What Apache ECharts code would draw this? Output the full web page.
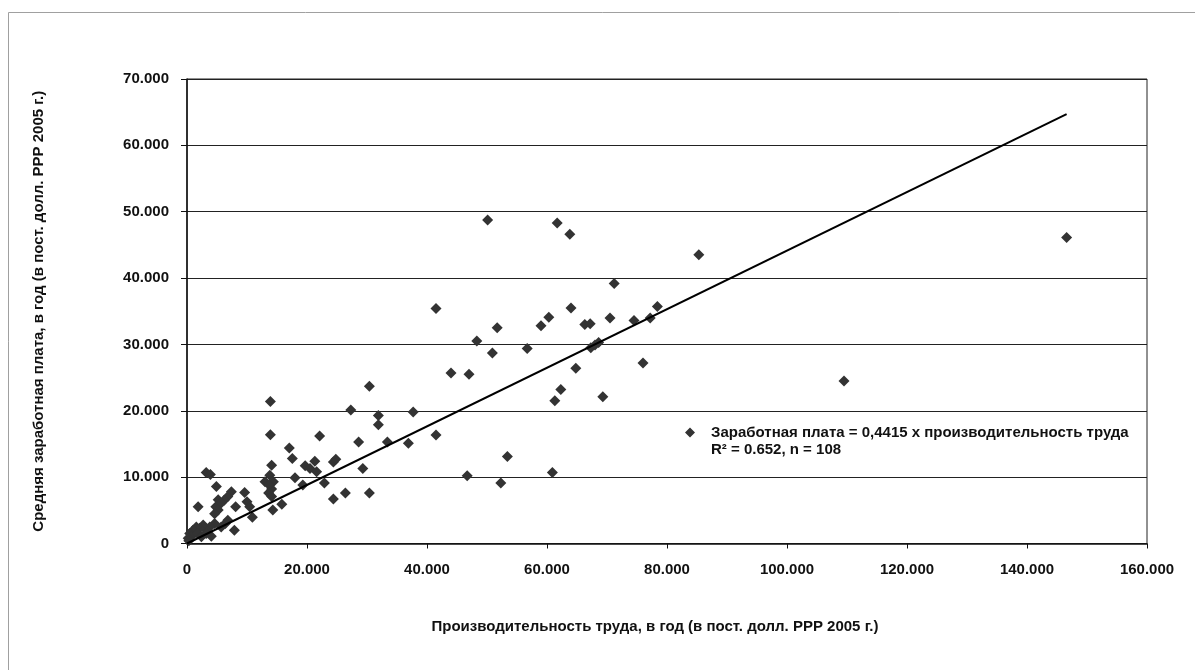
<!DOCTYPE html>
<html>
<head>
<meta charset="utf-8">
<script src="https://cdn.jsdelivr.net/npm/echarts@6/dist/echarts.min.js"></script>
<style>
html,body{margin:0;padding:0;background:#fff;}
#chart{width:1195px;height:670px;}
</style>
</head>
<body>
<div id="chart"></div>
<script>
// Labour productivity (x) and average wage (y), constant 2005 PPP dollars per year
var productivity = [
  50100, 61700, 63800, 85300, 71200, 41500, 64000, 78400, 51700, 59000,
  60300, 66300, 67200, 70500, 74500, 77200, 48300, 50900, 56700, 44000,
  47000, 67300, 68600, 68000, 64800, 76000, 62300, 61300, 69300, 41500,
  53400, 46700, 52300, 60900, 109500, 146600, 30400, 37700, 31900, 31900,
  28600, 33400, 36900, 29300, 30400, 13900, 27300, 13900, 22100, 17050,
  17550, 21300, 24400, 24800, 14100, 19700, 20500, 21600, 13800, 14400,
  18000, 19300, 22900, 14100, 15800, 14300, 24400, 26400, 13000, 13700,
  13600, 14100, 3200, 3900, 4900, 7400, 6800, 6200, 9600, 10000,
  10450, 8100, 5200, 4800, 5700, 1850, 5200, 4600, 10900, 6800,
  6400, 5700, 7900, 4600, 3800, 3200, 2700, 2100, 1550, 1000,
  450, 700, 200, 1800, 2400, 4050, 300, 3200
];
var wage = [
  48750, 48300, 46600, 43500, 39200, 35400, 35500, 35700, 32500, 32800,
  34100, 33000, 33100, 34000, 33600, 34000, 30500, 28700, 29400, 25700,
  25500, 29500, 30300, 29900, 26400, 27200, 23200, 21500, 22100, 16350,
  13100, 10200, 9100, 10700, 24500, 46100, 23700, 19800, 19300, 17900,
  15300, 15300, 15100, 11300, 7600, 21400, 20100, 16400, 16200, 14400,
  12800, 12400, 12300, 12700, 11800, 11700, 11300, 10800, 10300, 9300,
  9900, 8800, 9100, 8200, 5900, 5050, 6700, 7600, 9300, 8800,
  7600, 7100, 10700, 10400, 8600, 7800, 7100, 6500, 7700, 6300,
  5550, 5550, 6600, 5550, 6100, 5550, 5050, 4500, 3950, 3500,
  3000, 2500, 2000, 3000, 2500, 2000, 2800, 2300, 2500, 2000,
  1500, 1000, 800, 1500, 1000, 1100, 400, 1500
];
// Regression line end points (as drawn)
var trendX = [0, 146600];
var trendY = [0, 64720];

var xTicks = {min: 0, max: 160000, interval: 20000};
var yTicks = {min: 0, max: 70000, interval: 10000};

var seriesName = 'Заработная плата = 0,4415 x производительность труда\nR² = 0.652, n = 108';
var xName = 'Производительность труда, в год (в пост. долл. PPP 2005 г.)';
var yName = 'Средняя заработная плата, в год (в пост. долл. PPP 2005 г.)';

function fmt(v) {
  if (v === 0) return '0';
  var s = String(Math.round(v));
  return s.replace(/\B(?=(\d{3})+(?!\d))/g, '.');
}

var points = productivity.map(function (x, i) { return [x, wage[i]]; });
var trend = trendX.map(function (x, i) { return [x, trendY[i]]; });

var FONT = 'Liberation Sans, Arial, sans-serif';
var chart = echarts.init(document.getElementById('chart'), null, {renderer: 'canvas'});
chart.setOption({
  animation: false,
  backgroundColor: '#fff',
  textStyle: {fontFamily: FONT},
  graphic: [{
    type: 'rect', silent: true,
    shape: {x: 8.5, y: 12.5, width: 1300, height: 800},
    style: {fill: 'none', stroke: '#a0a0a0', lineWidth: 1}
  }],
  grid: {left: 187, top: 79, width: 960, height: 464.5, show: true, borderColor: '#222', borderWidth: 1},
  legend: {
    show: true, left: 680, top: 402, orient: 'vertical',
    icon: 'path://M0,5L5,0L10,5L5,10Z M21,5L21,5.001L21,5Z',
    itemWidth: 21, itemHeight: 10, itemGap: 4,
    data: [{name: seriesName}],
    formatter: function (n) { return ' \n' + n; },
    textStyle: {fontFamily: FONT, fontWeight: 'bold', fontSize: 15, color: '#111', lineHeight: 17}
  },
  xAxis: {
    type: 'value', min: xTicks.min, max: xTicks.max, interval: xTicks.interval,
    name: xName, nameLocation: 'middle', nameGap: 76,
    nameTextStyle: {fontFamily: FONT, fontWeight: 'bold', fontSize: 15, color: '#111', padding: [0, 24, 0, 0]},
    axisLine: {show: true, onZero: false, lineStyle: {color: '#111', width: 1.5}},
    axisTick: {show: true, length: 5, lineStyle: {color: '#111'}},
    axisLabel: {formatter: fmt, margin: 19, fontFamily: FONT, fontWeight: 'bold', fontSize: 15, color: '#111'},
    splitLine: {show: false}
  },
  yAxis: {
    type: 'value', min: yTicks.min, max: yTicks.max, interval: yTicks.interval,
    name: yName, nameLocation: 'middle', nameGap: 141,
    nameTextStyle: {fontFamily: FONT, fontWeight: 'bold', fontSize: 15, color: '#111'},
    axisLine: {show: true, onZero: false, lineStyle: {color: '#111', width: 1.5}},
    axisTick: {show: true, length: 6, lineStyle: {color: '#111'}},
    axisLabel: {formatter: fmt, margin: 18, fontFamily: FONT, fontWeight: 'bold', fontSize: 15, color: '#111'},
    splitLine: {show: true, lineStyle: {color: '#222', width: 1}}
  },
  series: [{
    name: seriesName, type: 'scatter', symbol: 'diamond', symbolSize: 11,
    itemStyle: {color: '#333333', opacity: 1},
    data: points, z: 3
  }, {
    name: 'trend', type: 'line', data: trend, symbol: 'none',
    lineStyle: {color: '#000', width: 2}, z: 4, silent: true
  }]
});
</script>
</body>
</html>
